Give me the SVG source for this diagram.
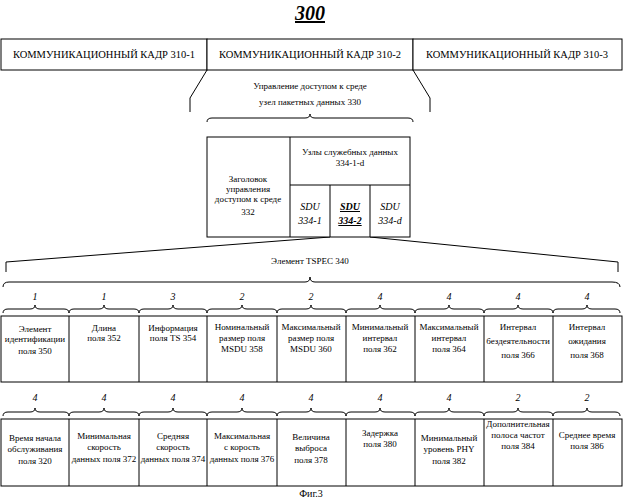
<svg xmlns="http://www.w3.org/2000/svg" width="624" height="500" viewBox="0 0 624 500">
<style>
text{font-family:"Liberation Serif",serif;fill:#000;text-anchor:middle}
.b{fill:#fff;stroke:#000;stroke-width:1}
.l{fill:none;stroke:#000;stroke-width:1}
.t{font-size:10.5px}
.f{font-size:9px}
.n{font-size:10px;font-style:italic}
</style>
<rect width="624" height="500" fill="#fff"/>
<text x="310" y="20" style="font-size:20px;font-weight:bold;font-style:italic;text-decoration:underline">300</text>
<g id="frame1"><rect class="b" x="1" y="39" width="206" height="31"/><text class="t" x="104" y="58">КОММУНИКАЦИОННЫЙ КАДР 310-1</text></g>
<g id="frame2"><rect class="b" x="207" y="39" width="206" height="31"/><text class="t" x="310" y="58">КОММУНИКАЦИОННЫЙ КАДР 310-2</text></g>
<g id="frame3"><rect class="b" x="413" y="39" width="209" height="31"/><text class="t" x="517" y="58">КОММУНИКАЦИОННЫЙ КАДР 310-3</text></g>
<g id="connectors">
<path class="l" d="M207 70 L190 98 V112 M413 70 L430 98 V112"/>
<path class="l" d="M207 122 Q207 118 212 118 H305 Q310 118 310 114 Q310 118 315 118 H408 Q413 118 413 122"/>
<path class="l" d="M330 237 L6 262 V272 M370 237 L618 262 V272"/>
<path class="l" d="M3 287 Q3 282 9 282 H305 Q310 282 310 277 Q310 282 315 282 H612 Q620 282 620 287"/>
</g>
<g id="mpdu">
<text class="f" x="310" y="89">Управление доступом к среде</text>
<text class="f" x="310" y="105">узел пакетных данных 330</text>
</g>
<g id="mac">
<rect class="b" x="207" y="137" width="203" height="100"/>
<path class="l" d="M290 137 V237 M290 185 H410 M330 185 V237 M370 185 V237"/>
<text class="f" x="248" y="182">Заголовок</text>
<text class="f" x="248" y="192">управления</text>
<text class="f" x="248" y="202">доступом к среде</text>
<text class="f" x="248" y="215">332</text>
<text class="f" x="350" y="155">Узлы служебных данных</text>
<text class="f" x="350" y="166">334-1-d</text>
<text class="n" x="310" y="210">SDU</text><text class="n" x="310" y="224">334-1</text>
<text class="n" x="350" y="210" style="font-weight:bold;text-decoration:underline">SDU</text><text class="n" x="350" y="224" style="font-weight:bold;text-decoration:underline">334-2</text>
<text class="n" x="390" y="210">SDU</text><text class="n" x="390" y="224">334-d</text>
</g>
<text class="f" x="310" y="264">Элемент TSPEC 340</text>
<g id="row1">
<path class="l" d="M3 313 Q3 309 8 309 H30 Q35 309 35 305 Q35 309 40 309 H64 Q69 309 69 313 M69 313 Q69 309 74 309 H99 Q104 309 104 305 Q104 309 109 309 H134 Q139 309 139 313 M139 313 Q139 309 144 309 H168 Q173 309 173 305 Q173 309 178 309 H202 Q207 309 207 313 M207 313 Q207 309 212 309 H237 Q242 309 242 305 Q242 309 247 309 H272 Q277 309 277 313 M277 313 Q277 309 282 309 H306 Q311 309 311 305 Q311 309 316 309 H341 Q346 309 346 313 M346 313 Q346 309 351 309 H375 Q380 309 380 305 Q380 309 385 309 H410 Q415 309 415 313 M415 313 Q415 309 420 309 H444 Q449 309 449 305 Q449 309 454 309 H479 Q484 309 484 313 M484 313 Q484 309 489 309 H513 Q518 309 518 305 Q518 309 523 309 H548 Q553 309 553 313 M553 313 Q553 309 558 309 H582 Q587 309 587 305 Q587 309 592 309 H615 Q620 309 620 313"/>
<text class="n" x="35" y="300">1</text><text class="n" x="104" y="300">1</text><text class="n" x="173" y="300">3</text><text class="n" x="242" y="300">2</text><text class="n" x="311" y="300">2</text><text class="n" x="380" y="300">4</text><text class="n" x="449" y="300">4</text><text class="n" x="518" y="300">4</text><text class="n" x="587" y="300">4</text>
<rect class="b" x="1" y="316" width="621" height="66"/>
<path class="l" d="M69 316V382M139 316V382M207 316V382M277 316V382M346 316V382M415 316V382M484 316V382M553 316V382"/>
<text class="f" x="35" y="332">Элемент</text><text class="f" x="35" y="342">идентификации</text><text class="f" x="35" y="354">поля 350</text>
<text class="f" x="104" y="331">Длина</text><text class="f" x="104" y="341">поля 352</text>
<text class="f" x="173" y="331">Информация</text><text class="f" x="173" y="341">поля TS 354</text>
<text class="f" x="242" y="330">Номинальный</text><text class="f" x="242" y="341">размер поля</text><text class="f" x="242" y="352">MSDU 358</text>
<text class="f" x="311" y="330">Максимальный</text><text class="f" x="311" y="341">размер поля</text><text class="f" x="311" y="352">MSDU 360</text>
<text class="f" x="380" y="330">Минимальный</text><text class="f" x="380" y="341">интервал</text><text class="f" x="380" y="352">поля 362</text>
<text class="f" x="449" y="330">Максимальный</text><text class="f" x="449" y="341">интервал</text><text class="f" x="449" y="352">поля 364</text>
<text class="f" x="518" y="330">Интервал</text><text class="f" x="518" y="344">бездеятельности</text><text class="f" x="518" y="358">поля 366</text>
<text class="f" x="587" y="330">Интервал</text><text class="f" x="587" y="344">ожидания</text><text class="f" x="587" y="358">поля 368</text>
</g>
<g id="row2">
<path class="l" d="M3 416 Q3 412 8 412 H30 Q35 412 35 408 Q35 412 40 412 H64 Q69 412 69 416 M69 416 Q69 412 74 412 H99 Q104 412 104 408 Q104 412 109 412 H134 Q139 412 139 416 M139 416 Q139 412 144 412 H168 Q173 412 173 408 Q173 412 178 412 H202 Q207 412 207 416 M207 416 Q207 412 212 412 H237 Q242 412 242 408 Q242 412 247 412 H272 Q277 412 277 416 M277 416 Q277 412 282 412 H306 Q311 412 311 408 Q311 412 316 412 H341 Q346 412 346 416 M346 416 Q346 412 351 412 H375 Q380 412 380 408 Q380 412 385 412 H410 Q415 412 415 416 M415 416 Q415 412 420 412 H444 Q449 412 449 408 Q449 412 454 412 H479 Q484 412 484 416 M484 416 Q484 412 489 412 H513 Q518 412 518 408 Q518 412 523 412 H548 Q553 412 553 416 M553 416 Q553 412 558 412 H582 Q587 412 587 408 Q587 412 592 412 H615 Q620 412 620 416"/>
<text class="n" x="35" y="401">4</text><text class="n" x="104" y="401">4</text><text class="n" x="173" y="401">4</text><text class="n" x="242" y="401">4</text><text class="n" x="311" y="401">4</text><text class="n" x="380" y="401">4</text><text class="n" x="449" y="401">4</text><text class="n" x="518" y="401">2</text><text class="n" x="587" y="401">2</text>
<rect class="b" x="1" y="419" width="621" height="67"/>
<path class="l" d="M69 419V486M139 419V486M207 419V486M277 419V486M346 419V486M415 419V486M484 419V486M553 419V486"/>
<text class="f" x="35" y="441">Время начала</text><text class="f" x="35" y="452">обслуживания</text><text class="f" x="35" y="464">поля 320</text>
<text class="f" x="104" y="439">Минимальная</text><text class="f" x="104" y="450">скорость</text><text class="f" x="104" y="462">данных поля 372</text>
<text class="f" x="173" y="439">Средняя</text><text class="f" x="173" y="450">скорость</text><text class="f" x="173" y="462">данных поля 374</text>
<text class="f" x="242" y="439">Максимальная</text><text class="f" x="242" y="450">с корость</text><text class="f" x="242" y="462">данных поля 376</text>
<text class="f" x="311" y="440">Величина</text><text class="f" x="311" y="451">выброса</text><text class="f" x="311" y="463">поля 378</text>
<text class="f" x="380" y="436">Задержка</text><text class="f" x="380" y="447">поля 380</text>
<text class="f" x="449" y="441">Минимальный</text><text class="f" x="449" y="452">уровень PHY</text><text class="f" x="449" y="464">поля 382</text>
<text class="f" x="518" y="427">Дополнительная</text><text class="f" x="518" y="438">полоса частот</text><text class="f" x="518" y="449">поля 384</text>
<text class="f" x="587" y="438">Среднее время</text><text class="f" x="587" y="449">поля 386</text>
</g>
<text x="311" y="497" style="font-size:10px">Фиг.3</text>
</svg>
